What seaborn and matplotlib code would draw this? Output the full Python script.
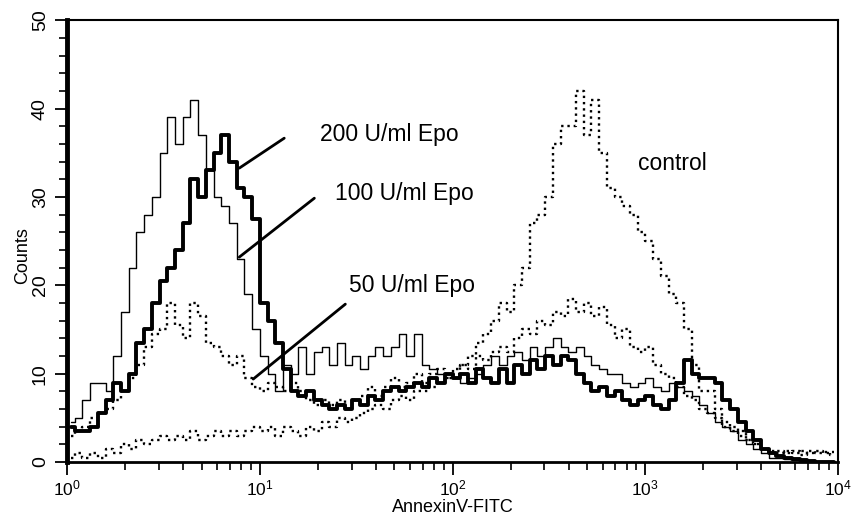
import numpy as np
import pandas as pd
import matplotlib
matplotlib.use("Agg")
import matplotlib.pyplot as plt
import seaborn as sns
from matplotlib.ticker import LogLocator, MultipleLocator, NullFormatter

# 100 log-spaced channels over 4 decades (25 per decade)
channel = 10 ** ((np.arange(100) + 0.5) / 25)

epo_200 = [4, 3.5, 3.5, 4, 5.5, 7, 9, 8, 10, 13.5,
           15, 18, 20.5, 22, 24, 27, 32, 30, 33, 35,
           37, 34, 31, 30, 27.5, 18, 16, 13.5, 10.5, 8,
           7.5, 8, 7, 6.5, 6, 6.5, 6, 7, 6.5, 7.5,
           7, 8, 8.5, 8, 8.5, 9, 8.5, 9.5, 9, 10,
           9.5, 10, 9, 10.5, 9.5, 9, 10.5, 9, 11, 10,
           11.5, 10.5, 12, 11, 12, 11.5, 10, 9, 8, 8.5,
           7.5, 8, 7, 6.5, 7, 7.5, 6.5, 6, 7, 9,
           11.5, 10, 9.5, 9.5, 9, 7, 6, 4.5, 3.5, 2.5,
           1.5, 1, 0.7, 0.5, 0.3, 0.2, 0.1, 0, 0, 0]

epo_100 = [4.5, 5, 7, 9, 9, 8, 12, 17, 22, 26,
           28, 30, 35, 39, 36, 39, 41, 37, 33, 30,
           29, 27, 23, 19, 15, 12, 10, 8, 11, 10,
           13, 10, 12.5, 13, 11, 13.5, 11, 12, 10.5, 12,
           13, 12, 13, 14.5, 12, 14.5, 11, 10.5, 10, 10,
           9.5, 9, 9.5, 10, 11, 12, 11, 12, 12.5, 11.5,
           13, 12, 13, 14, 13, 12.5, 13, 12, 11, 10.5,
           10, 10, 9, 8.5, 9, 9.5, 8.5, 8, 9, 8.5,
           8, 7.5, 6.5, 5.5, 4.5, 4, 3.5, 2.5, 2, 1.5,
           1, 0.5, 0.5, 0.3, 0.2, 0.1, 0.1, 0, 0, 0]

epo_50 = [3, 3.5, 4, 5, 5.5, 6, 7, 8, 9.5, 11,
          13, 14.5, 15, 18, 15.5, 14, 18, 16.5, 13.5, 13,
          12, 11, 12, 9.5, 8.5, 8, 9, 8.5, 8, 9,
          8, 7, 6.5, 7, 6.5, 7, 6, 7, 7.5, 8.5,
          7.5, 8.5, 9.5, 8.5, 9, 10, 9, 10, 10.5, 9.5,
          10.5, 11, 10.5, 12, 11.5, 12.5, 13, 12.5, 14, 15,
          14.5, 16, 15.5, 17, 16.5, 18.5, 17, 18, 16.5, 17.5,
          15.5, 14, 15, 13, 12.5, 13, 11, 10, 9.5, 8.5,
          7.5, 7, 6, 5.5, 5, 4, 3.5, 3, 2.5, 2,
          1.5, 1, 1.2, 1, 1.3, 0.8, 1.2, 1, 1.1, 0.8]

control = [0.5, 1, 0.5, 1, 0.5, 1.5, 1, 2, 1.5, 2.5,
           2, 2.5, 3, 2.5, 3, 2.5, 3.5, 2.5, 3, 3.5,
           3, 3.5, 3, 3.5, 4, 3.5, 4, 3, 4, 3.5,
           3, 4, 3.5, 4.5, 4, 5, 4.5, 5, 5.5, 6,
           6.5, 6, 7, 7.5, 7, 8, 8, 8.5, 9, 9.5,
           10, 11, 12, 13.5, 14.5, 16, 18, 17, 20, 22,
           27, 28, 30, 36, 38, 38, 42, 37, 41, 35,
           31, 30, 29, 28, 26, 25, 23, 21, 19, 18,
           15, 11, 8, 8, 6, 4.5, 4, 3.5, 2.5, 2,
           1.5, 1.2, 1, 1.2, 1, 1.3, 1, 1.2, 1, 1.1]

df = pd.DataFrame({"channel": channel, "200 U/ml Epo": epo_200,
                   "100 U/ml Epo": epo_100, "50 U/ml Epo": epo_50,
                   "control": control})

sns.set_style("ticks")
plt.rcParams['font.family'] = ['Liberation Sans', 'DejaVu Sans']
plt.rcParams['mathtext.fontset'] = 'custom'
plt.rcParams['mathtext.rm'] = 'Liberation Sans'
plt.rcParams['mathtext.it'] = 'Liberation Sans'
for key in ['text.color', 'axes.labelcolor', 'xtick.color', 'ytick.color', 'axes.edgecolor']:
    plt.rcParams[key] = 'black'

fig = plt.figure(figsize=(8.53, 5.18), dpi=100)
ax = fig.add_axes([0.0785, 0.108, 0.904, 0.853])

styles = {"control": dict(lw=1.7, ls=":"),
          "50 U/ml Epo": dict(lw=1.7, ls=":"),
          "100 U/ml Epo": dict(lw=1.0, ls="-"),
          "200 U/ml Epo": dict(lw=2.8, ls="-")}
for name, st in styles.items():
    sns.lineplot(data=df, x="channel", y=name, ax=ax, color="black",
                 estimator=None, drawstyle="steps-mid", legend=False,
                 linewidth=st["lw"], linestyle=st["ls"])

ax.set_xscale("log")
ax.set_xlim(1, 1e4)
ax.set_ylim(0, 50)
ax.xaxis.set_major_locator(LogLocator(base=10, numticks=10))
ax.xaxis.set_minor_locator(LogLocator(base=10, subs=np.arange(2, 10), numticks=20))
ax.xaxis.set_minor_formatter(NullFormatter())
ax.yaxis.set_major_locator(MultipleLocator(10))
ax.yaxis.set_minor_locator(MultipleLocator(2))
ax.tick_params(axis="both", which="major", direction="out", length=9, width=1.3)
ax.tick_params(axis="both", which="minor", direction="out", length=6, width=1.2)
ax.tick_params(axis="y", which="major", pad=4, labelsize=14)
ax.tick_params(axis="x", which="major", pad=3, labelsize=12.5)
for lab in ax.get_yticklabels():
    lab.set_rotation(90)
    lab.set_va("center")

ax.spines["left"].set_linewidth(3.5)
ax.spines["bottom"].set_linewidth(2)
ax.spines["top"].set_linewidth(1.5)
ax.spines["right"].set_linewidth(1.5)

ax.set_xlabel("AnnexinV-FITC", fontsize=13, labelpad=0)
ax.set_ylabel("Counts", fontsize=13)
ax.yaxis.set_label_coords(-0.046, 0.468)

# curve labels with leader lines
ax.text(20.6, 36.3, "200 U/ml Epo", fontsize=16.5, va="baseline")
ax.text(24.7, 29.6, "100 U/ml Epo", fontsize=16.5, va="baseline")
ax.text(29.2, 19.2, "50 U/ml Epo", fontsize=16.5, va="baseline")
ax.text(914, 33.0, "control", fontsize=16.5, va="baseline")
ax.plot([7.83, 13.4], [33.26, 36.65], color="black", lw=2)
ax.plot([7.83, 19.2], [23.19, 29.86], color="black", lw=2)
ax.plot([9.25, 27.8], [9.39, 17.87], color="black", lw=2)

fig.savefig("out.png", dpi=100)
